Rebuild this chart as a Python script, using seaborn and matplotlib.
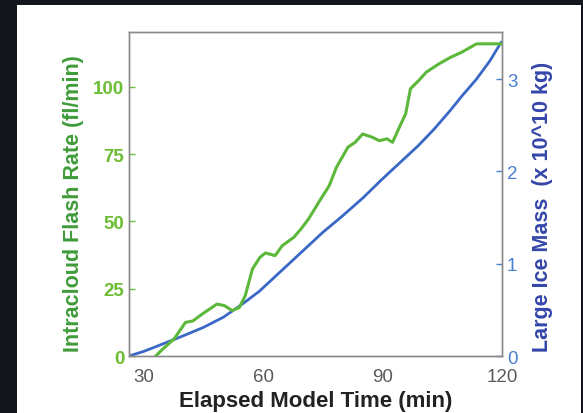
import matplotlib
matplotlib.use("Agg")
import matplotlib.pyplot as plt
from matplotlib.patches import Rectangle
import seaborn as sns
import pandas as pd

# Intracloud flash rate (fl/min) against elapsed model time (min)
flash_time = [33.0, 34.8, 37.6, 40.5, 42.3, 44.7, 48.4, 50.3, 52.2, 54.0, 55.5,
              57.3, 59.2, 60.6, 63.0, 64.8, 67.7, 69.5, 71.4, 74.2, 76.6, 78.4,
              81.3, 83.1, 85.0, 87.4, 89.2, 91.1, 92.5, 94.4, 95.8, 97.0, 99.1,
              101.0, 104.2, 107.1, 109.9, 113.6, 119.8]
flash_rate = [0.0, 2.6, 6.3, 12.5, 13.0, 15.6, 19.3, 18.7, 16.9, 18.0, 22.4,
              32.3, 36.7, 38.3, 37.3, 41.0, 44.1, 47.2, 50.9, 57.7, 63.3, 70.1,
              77.6, 79.4, 82.5, 81.3, 80.0, 80.7, 79.4, 85.6, 90.0, 99.3, 102.4,
              105.5, 108.6, 111.0, 112.9, 116.0, 116.0]

# Large ice mass (x 10^10 kg) against elapsed model time (min)
ice_time = [26.3, 30, 33, 36.5, 40, 45, 50, 52, 55, 59, 63, 67, 71, 75, 80,
            85, 90, 95, 99, 103, 107, 110, 113.6, 117, 119.8]
ice_mass = [0.0, 0.05, 0.10, 0.16, 0.22, 0.31, 0.42, 0.48, 0.57, 0.70, 0.86,
            1.02, 1.18, 1.34, 1.52, 1.71, 1.92, 2.12, 2.28, 2.46, 2.66, 2.82,
            3.00, 3.20, 3.40]

x_ticks = [30, 60, 90, 120]
left_ticks = [0, 25, 50, 75, 100]
right_ticks = [0, 1, 2, 3]

flash_df = pd.DataFrame({"time": flash_time, "rate": flash_rate})
ice_df = pd.DataFrame({"time": ice_time, "mass": ice_mass})

sns.set_theme(style="white")
plt.rcParams["font.family"] = ["Liberation Sans", "DejaVu Sans"]

GREEN = "#5cb83a"
GREEN_TXT = "#3f9c3a"
GREEN_TICK = "#6cbd34"
BLUE = "#3a68c6"
BLUE_TXT = "#3446a8"
BLUE_TICK = "#4a7fd0"
FRAME = "#8a8a8a"

fig = plt.figure(figsize=(5.83, 4.14), dpi=100, facecolor="#14161d")
# white slide panel behind the chart
fig.patches.append(Rectangle((17 / 583, 0), (581 - 17) / 583, 1 - 6 / 414,
                             transform=fig.transFigure, facecolor="white",
                             edgecolor="none", zorder=-10))

ax = fig.add_axes([129 / 583, 1 - 357 / 414, (502 - 129) / 583, (357 - 33) / 414])
ax2 = ax.twinx()

sns.lineplot(data=ice_df, x="time", y="mass", ax=ax2, color=BLUE, linewidth=2.0)
sns.lineplot(data=flash_df, x="time", y="rate", ax=ax, color=GREEN, linewidth=2.2)
ax.set_zorder(ax2.get_zorder() + 1)
ax.patch.set_visible(False)
ax2.patch.set_visible(False)

ax.set_xlim(26.3, 120)
ax.set_ylim(0, 120.4)
ax2.set_ylim(0, 3.51)

ax.set_xticks(x_ticks)
ax.set_yticks(left_ticks)
ax2.set_yticks(right_ticks)

for a in (ax, ax2):
    for sp in a.spines.values():
        sp.set_color(FRAME)
        sp.set_linewidth(1.0)

ax.tick_params(axis="x", direction="in", length=0, colors="#5a5a5a",
               labelsize=13.5, pad=9)
ax.tick_params(axis="y", direction="in", length=4, width=1, color=GREEN_TICK,
               labelcolor=GREEN_TICK, labelsize=13.5, pad=3.5)
ax2.tick_params(axis="y", direction="in", length=4, width=1, color=BLUE_TICK,
                labelcolor=BLUE_TICK, labelsize=13.5, pad=3.5)
for lab in ax.get_yticklabels():
    lab.set_fontweight("bold")

ax.set_xlabel("Elapsed Model Time (min)", fontsize=16, fontweight="bold",
              color="#222222", labelpad=3)
ax.set_ylabel("Intracloud Flash Rate (fl/min)", fontsize=15.5, fontweight="bold",
              color=GREEN_TXT)
ax2.set_ylabel("Large Ice Mass  (x 10^10 kg)", fontsize=15.5, fontweight="bold",
               color=BLUE_TXT)
ax.yaxis.set_label_coords(-0.121, 0.474)
ax2.yaxis.set_label_coords(1.080, 0.4645)

fig.savefig("out.png", dpi=100, facecolor=fig.get_facecolor())
